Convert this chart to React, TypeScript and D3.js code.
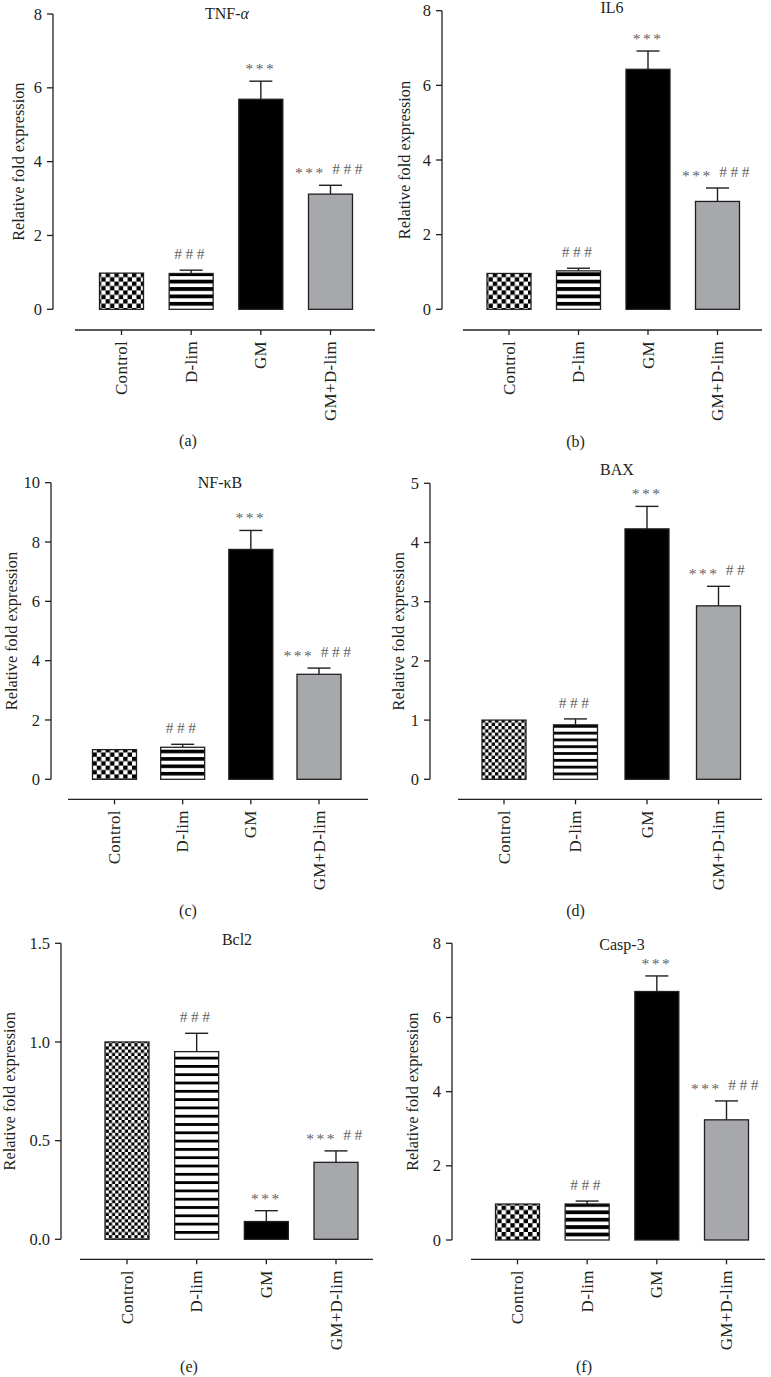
import React from "react";
import * as d3 from "d3";

// ---------- DATA ----------
const categories = ["Control", "D-lim", "GM", "GM+D-lim"];

const tnfMean = [0.98, 0.97, 5.69, 3.12];
const tnfSem = [0, 0.09, 0.49, 0.24];
const tnfSig = ["", "###", "***", "*** ###"];
const tnfTicks = [0, 2, 4, 6, 8];

const il6Mean = [0.96, 1.03, 6.43, 2.89];
const il6Sem = [0, 0.07, 0.49, 0.36];
const il6Sig = ["", "###", "***", "*** ###"];
const il6Ticks = [0, 2, 4, 6, 8];

const nfkbMean = [1.0, 1.08, 7.75, 3.54];
const nfkbSem = [0, 0.1, 0.64, 0.21];
const nfkbSig = ["", "###", "***", "*** ###"];
const nfkbTicks = [0, 2, 4, 6, 8, 10];

const baxMean = [1.0, 0.92, 4.23, 2.93];
const baxSem = [0, 0.1, 0.38, 0.33];
const baxSig = ["", "###", "***", "*** ##"];
const baxTicks = [0, 1, 2, 3, 4, 5];

const bcl2Mean = [1.0, 0.951, 0.09, 0.39];
const bcl2Sem = [0, 0.093, 0.055, 0.058];
const bcl2Sig = ["", "###", "***", "*** ##"];
const bcl2Ticks = [0, 0.5, 1.0, 1.5];

const casp3Mean = [0.97, 0.97, 6.7, 3.24];
const casp3Sem = [0, 0.08, 0.42, 0.51];
const casp3Sig = ["", "###", "***", "*** ###"];
const casp3Ticks = [0, 2, 4, 6, 8];

// ---------- LAYOUT ----------
type Panel = {
  id: string;
  title: React.ReactNode;
  caption: string;
  mean: number[];
  sem: number[];
  sig: string[];
  ticks: number[];
  fmt: (v: number) => string;
  axisX: number;
  yTop: number;
  y0: number;
  xAxisY: number;
  xAxisX0: number;
  xAxisX1: number;
  cat0: number;
  cat1: number;
  titleX: number;
  titleY: number;
  labelX: number;
  capX: number;
  capY: number;
  cell: number;
  period: number;
  band: number;
};

const intFmt = (v: number) => d3.format("d")(v);
const decFmt = (v: number) => d3.format(".1f")(v);

const panels: Panel[] = [
  {
    id: "a", title: <>TNF-<tspan fontStyle="italic">α</tspan></>, caption: "(a)",
    mean: tnfMean, sem: tnfSem, sig: tnfSig, ticks: tnfTicks, fmt: intFmt,
    axisX: 53, yTop: 14, y0: 309.3, xAxisY: 330, xAxisX0: 75, xAxisX1: 375,
    cat0: 121.5, cat1: 330.5, titleX: 227, titleY: 13, labelX: 18, capX: 188, capY: 440,
    cell: 4.4, period: 7.4, band: 3.8,
  },
  {
    id: "b", title: "IL6", caption: "(b)",
    mean: il6Mean, sem: il6Sem, sig: il6Sig, ticks: il6Ticks, fmt: intFmt,
    axisX: 442, yTop: 10.7, y0: 309.3, xAxisY: 330, xAxisX0: 463, xAxisX1: 762,
    cat0: 509, cat1: 717.5, titleX: 612, titleY: 7, labelX: 404, capX: 575.5, capY: 441,
    cell: 4.4, period: 7.4, band: 3.8,
  },
  {
    id: "c", title: "NF-κB", caption: "(c)",
    mean: nfkbMean, sem: nfkbSem, sig: nfkbSig, ticks: nfkbTicks, fmt: intFmt,
    axisX: 51, yTop: 482.7, y0: 779.3, xAxisY: 799.3, xAxisX0: 68, xAxisX1: 368,
    cat0: 114.5, cat1: 319, titleX: 220, titleY: 482, labelX: 11, capX: 188, capY: 910,
    cell: 4.4, period: 7.4, band: 3.6,
  },
  {
    id: "d", title: "BAX", caption: "(d)",
    mean: baxMean, sem: baxSem, sig: baxSig, ticks: baxTicks, fmt: intFmt,
    axisX: 430, yTop: 483.3, y0: 779.3, xAxisY: 799.3, xAxisX0: 458, xAxisX1: 762,
    cat0: 504, cat1: 718.5, titleX: 617, titleY: 469.5, labelX: 398, capX: 575.5, capY: 910,
    cell: 3.3, period: 6.8, band: 2.8,
  },
  {
    id: "e", title: "Bcl2", caption: "(e)",
    mean: bcl2Mean, sem: bcl2Sem, sig: bcl2Sig, ticks: bcl2Ticks, fmt: decFmt,
    axisX: 61, yTop: 943.3, y0: 1239.3, xAxisY: 1259.3, xAxisX0: 80, xAxisX1: 373,
    cat0: 127, cat1: 336, titleX: 237, titleY: 939.5, labelX: 9.5, capX: 189, capY: 1366,
    cell: 3.2, period: 8.3, band: 2.8,
  },
  {
    id: "f", title: "Casp-3", caption: "(f)",
    mean: casp3Mean, sem: casp3Sem, sig: casp3Sig, ticks: casp3Ticks, fmt: intFmt,
    axisX: 452, yTop: 943.3, y0: 1240, xAxisY: 1259.3, xAxisX0: 471, xAxisX1: 765,
    cat0: 517.5, cat1: 726.5, titleX: 622, titleY: 944, labelX: 412.5, capX: 584, capY: 1366,
    cell: 4.4, period: 7.4, band: 3.8,
  },
];

const FONT = "'Liberation Serif', 'DejaVu Serif', 'Times New Roman', serif";
const INK = "#231f20";
const SIG = "#5f6062";
const GRAY = "#a6a8ab";
const BAR_W = 44;

function SigText({ x, y, text }: { x: number; y: number; text: string }) {
  const parts = text.split(" ");
  return (
    <text x={x} y={y} textAnchor="middle" fontSize={15.5} fill={SIG} fontFamily={FONT}>
      {parts.map((p, i) =>
        p.startsWith("*") ? (
          <tspan key={i} dy={4} letterSpacing={2.5}>
            {p}
            {i < parts.length - 1 ? " " : ""}
          </tspan>
        ) : (
          <tspan key={i} dy={i === 0 ? 0 : -4} letterSpacing={3.5}>
            {p}
          </tspan>
        )
      )}
    </text>
  );
}

function PanelChart({ p }: { p: Panel }) {
  const maxV = p.ticks[p.ticks.length - 1];
  const y = d3.scaleLinear().domain([0, maxV]).range([p.y0, p.yTop]);
  const x = d3.scalePoint<string>().domain(categories).range([p.cat0, p.cat1]);
  const fills = [`url(#chk-${p.id})`, `url(#str-${p.id})`, "#000", GRAY];
  const midY = (p.y0 + p.yTop) / 2;
  return (
    <g>
      <defs>
        <pattern id={`chk-${p.id}`} patternUnits="userSpaceOnUse" width={p.cell * 2} height={p.cell * 2}>
          <rect width={p.cell * 2} height={p.cell * 2} fill="#fff" />
          <rect width={p.cell} height={p.cell} fill="#000" />
          <rect x={p.cell} y={p.cell} width={p.cell} height={p.cell} fill="#000" />
        </pattern>
        <pattern id={`str-${p.id}`} patternUnits="userSpaceOnUse" width={10} height={p.period} y={p.y0}>
          <rect width={10} height={p.period} fill="#fff" />
          <rect width={10} height={p.band} fill="#000" />
        </pattern>
      </defs>

      {/* y axis */}
      <line x1={p.axisX} x2={p.axisX} y1={y(maxV)} y2={y(0)} stroke={INK} strokeWidth={1.3} />
      {p.ticks.map((t) => (
        <g key={t}>
          <line x1={p.axisX - 6} x2={p.axisX} y1={y(t)} y2={y(t)} stroke={INK} strokeWidth={1.3} />
          <text x={p.axisX - 11} y={y(t)} dy="0.34em" textAnchor="end" fontSize={16.5} fontFamily={FONT} fill={INK}>
            {p.fmt(t)}
          </text>
        </g>
      ))}
      <text
        transform={`translate(${p.labelX},${midY}) rotate(-90)`}
        textAnchor="middle"
        dominantBaseline="central"
        fontSize={16.3}
        fontFamily={FONT}
        fill={INK}
      >
        Relative fold expression
      </text>

      {/* title */}
      <text x={p.titleX} y={p.titleY} dy="0.35em" textAnchor="middle" fontSize={16} fontFamily={FONT} fill={INK}>
        {p.title}
      </text>

      {/* bars */}
      {categories.map((c, i) => {
        const cx = x(c)!;
        const top = y(p.mean[i]);
        const errTop = y(p.mean[i] + p.sem[i]);
        return (
          <g key={c}>
            {p.sem[i] > 0 && (
              <g stroke={INK} strokeWidth={1.4}>
                <line x1={cx} x2={cx} y1={top} y2={errTop} />
                <line x1={cx - 11.5} x2={cx + 11.5} y1={errTop} y2={errTop} />
              </g>
            )}
            <rect
              x={cx - BAR_W / 2}
              y={top}
              width={BAR_W}
              height={p.y0 - top}
              fill={fills[i]}
              stroke={INK}
              strokeWidth={1.3}
            />
            {p.sig[i] && <SigText x={cx} y={errTop - 11} text={p.sig[i]} />}
          </g>
        );
      })}

      {/* x axis */}
      <line x1={p.xAxisX0} x2={p.xAxisX1} y1={p.xAxisY} y2={p.xAxisY} stroke={INK} strokeWidth={1.3} />
      {categories.map((c) => (
        <g key={c}>
          <line x1={x(c)!} x2={x(c)!} y1={p.xAxisY} y2={p.xAxisY + 5} stroke={INK} strokeWidth={1.3} />
          <text
            transform={`translate(${x(c)!},${p.xAxisY + 11}) rotate(-90)`}
            textAnchor="end"
            dominantBaseline="central"
            fontSize={17}
            letterSpacing={0.3}
            fontFamily={FONT}
            fill={INK}
          >
            {c}
          </text>
        </g>
      ))}

      {/* caption */}
      <text x={p.capX} y={p.capY} dy="0.35em" textAnchor="middle" fontSize={16} fontFamily={FONT} fill={INK}>
        {p.caption}
      </text>
    </g>
  );
}

export default function App() {
  return (
    <svg
      width={771}
      height={1377}
      viewBox="0 0 771 1377"
      style={{ position: "absolute", left: 0, top: 0, background: "#fff" }}
    >
      <rect width={771} height={1377} fill="#fff" />
      {panels.map((p) => (
        <PanelChart key={p.id} p={p} />
      ))}
    </svg>
  );
}
